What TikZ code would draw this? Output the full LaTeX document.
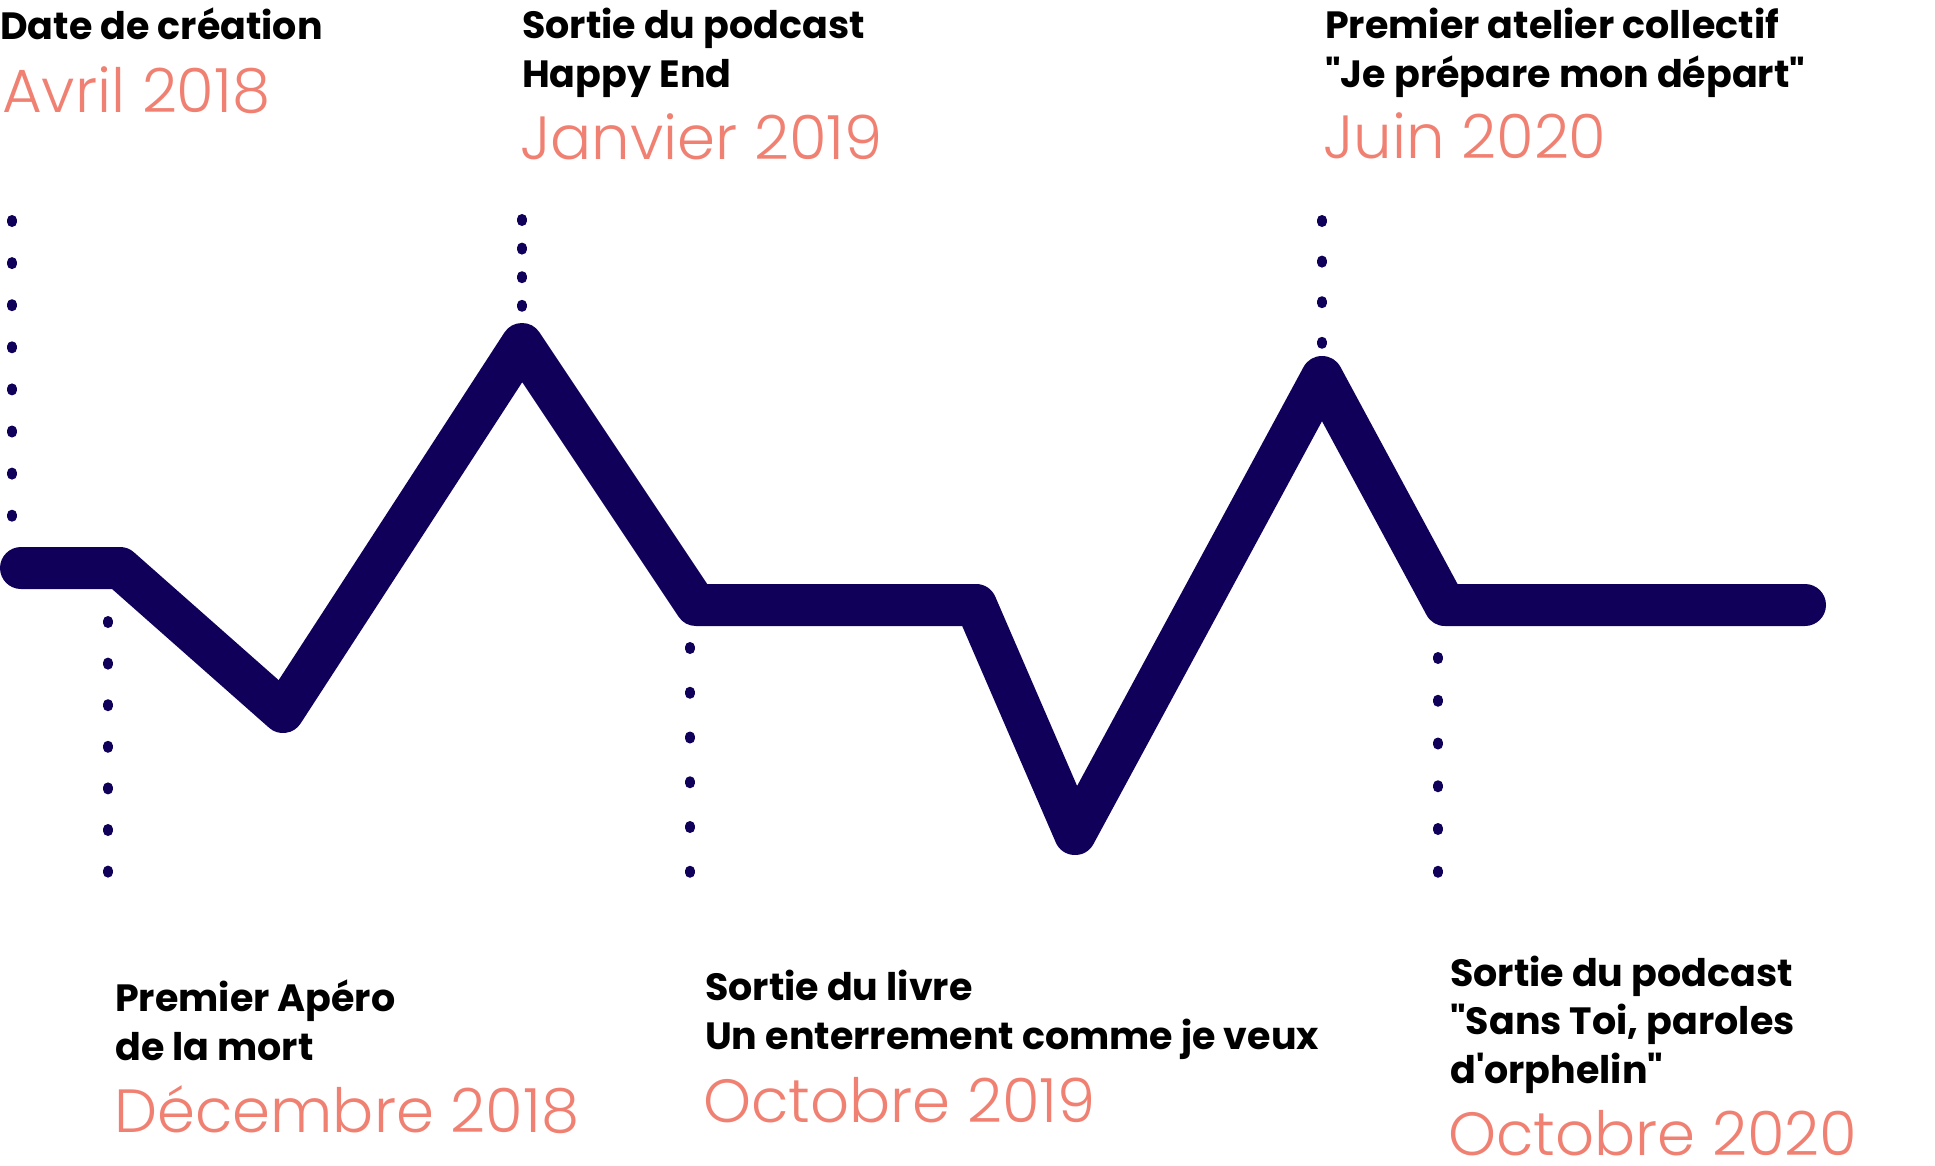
\documentclass[tikz,border=0pt]{standalone}
\usepackage{fontspec}
\setmainfont{Poppins}[Ligatures=TeXOff]
\newfontfamily\datefont{Poppins Light}
\definecolor{navy}{HTML}{10005A}
\definecolor{salmon}{HTML}{F08172}
\begin{document}
\begin{tikzpicture}[x=1pt,y=-1pt,
  event/.style={inner sep=0, anchor=base west, align=left, font=\fontsize{38}{48.5}\selectfont\bfseries},
  date/.style={inner sep=0, anchor=base west, text=salmon, font=\datefont\fontsize{61}{61}\selectfont},
  dotline/.style={navy, line width=10pt, line cap=round, dash pattern=on 2pt off #1}]
\useasboundingbox (0,0) rectangle (1935,1165);

\node[event](creation) at (0,39) {Date de création};
\node[date](avril) at (2,112) {Avril 2018};
\node[event](podcast) at (522,87) {Sortie du podcast\\Happy End};
\node[date](janvier) at (520,159) {Janvier 2019};
\node[event](atelier) at (1325,87) {Premier atelier collectif\\"Je prépare mon départ"};
\node[date](juin) at (1323,158) {Juin 2020};

\node[event](apero) at (115,1060) {Premier Apéro\\de la mort};
\node[date](decembre) at (114,1132) {Décembre 2018};
\node[event](livre) at (705,1049) {Sortie du livre\\Un enterrement comme je veux};
\node[date](octobreA) at (703,1122) {Octobre 2019};
\node[event](sanstoi) at (1450,1083) {Sortie du podcast\\"Sans Toi, paroles\\d'orphelin"};
\node[date](octobreB) at (1448,1155) {Octobre 2020};

\coordinate (p0) at (21,568);
\coordinate (p1) at (120,568);
\coordinate (p2) at (283,712);
\coordinate (p3) at (522,344);
\coordinate (p4) at (696,605);
\coordinate (p5) at (976,605);
\coordinate (p6) at (1075,834);
\coordinate (p7) at (1322,377);
\coordinate (p8) at (1445,605);
\coordinate (p9) at (1805,605);
\draw[navy, line width=42pt, line cap=round, line join=round]
  (p0) -- (p1) -- (p2) -- (p3) -- (p4) -- (p5) -- (p6) -- (p7) -- (p8) -- (p9);

\coordinate (creationTop) at (12,220);
\coordinate (creationBot) at (12,517);
\coordinate (aperoTop) at (108,621);
\coordinate (aperoBot) at (108,873);
\coordinate (podcastTop) at (522,219);
\coordinate (podcastBot) at (522,307);
\coordinate (livreTop) at (690,647);
\coordinate (livreBot) at (690,873);
\coordinate (atelierTop) at (1322,220);
\coordinate (atelierBot) at (1322,344);
\coordinate (sanstoiTop) at (1438,657);
\coordinate (sanstoiBot) at (1438,873);
\draw[dotline=40.1pt] (creationTop) -- (creationBot);
\draw[dotline=39.6pt] (aperoTop) -- (aperoBot);
\draw[dotline=26.6pt] (podcastTop) -- (podcastBot);
\draw[dotline=42.75pt] (livreTop) -- (livreBot);
\draw[dotline=38.6pt] (atelierTop) -- (atelierBot);
\draw[dotline=40.75pt] (sanstoiTop) -- (sanstoiBot);
\end{tikzpicture}
\end{document}
